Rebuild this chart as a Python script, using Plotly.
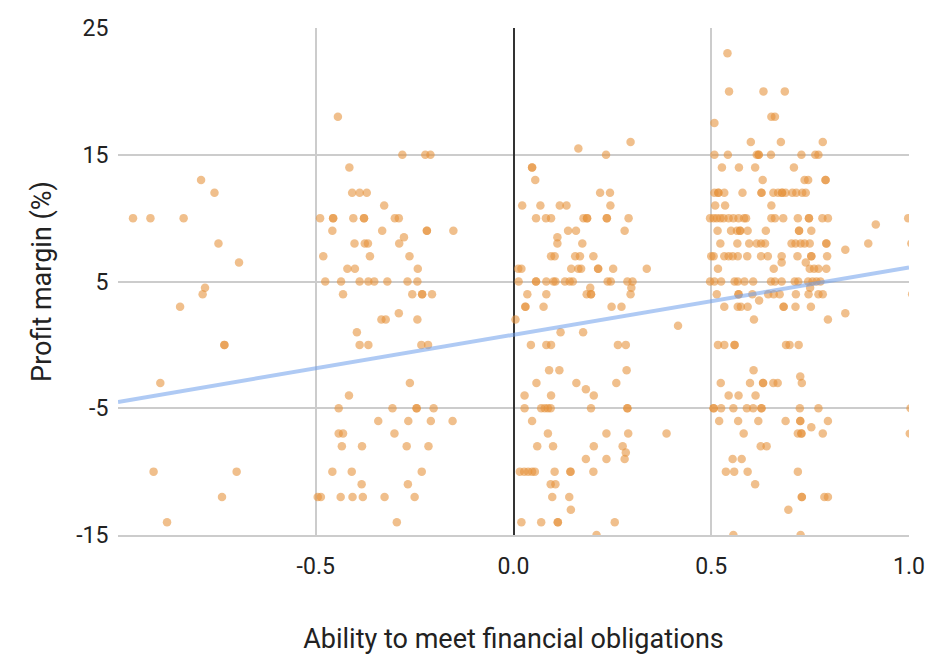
import numpy as np
import plotly.graph_objects as go

# Firms with very weak ability to meet obligations (x < -0.6)
ability_weak = [-0.962, -0.918, -0.834, -0.790, -0.756, -0.746, -0.694,
                -0.780, -0.786, -0.843, -0.731, -0.731, -0.893,
                -0.910, -0.700, -0.737, -0.876]
margin_weak = [10, 10, 10, 13, 12, 8, 6.5,
               4.5, 4, 3, 0, 0, -3,
               -10, -10, -12, -14]

# Firms around -0.5 .. -0.15
ability_low = [-0.444,
               -0.281, -0.223, -0.210,
               -0.415,
               -0.408, -0.389, -0.371,
               -0.327,
               -0.489, -0.456, -0.456, -0.405, -0.378, -0.378, -0.300, -0.290,
               -0.458, -0.332, -0.219, -0.219, -0.152,
               -0.277,
               -0.402, -0.376, -0.368, -0.289,
               -0.481, -0.363, -0.263,
               -0.420, -0.401, -0.242,
               -0.476, -0.436, -0.389, -0.367, -0.352, -0.319, -0.268, -0.243,
               -0.431, -0.256, -0.231, -0.231, -0.206,
               -0.290,
               -0.334, -0.323, -0.243,
               -0.396,
               -0.389, -0.367, -0.233, -0.216,
               -0.262,
               -0.416,
               -0.442, -0.306, -0.245, -0.245, -0.202,
               -0.342, -0.266, -0.209, -0.154,
               -0.442, -0.431, -0.301,
               -0.434, -0.383, -0.270, -0.215,
               -0.458, -0.409, -0.232,
               -0.384, -0.267,
               -0.495, -0.487, -0.437, -0.407, -0.381, -0.326, -0.250,
               -0.295]
margin_low = [18,
              15, 15, 15,
              14,
              12, 12, 12,
              11,
              10, 10, 10, 10, 10, 10, 10, 10,
              9, 9, 9, 9, 9,
              8.5,
              8, 8, 8, 8,
              7, 7, 7,
              6, 6, 6,
              5, 5, 5, 5, 5, 5, 5, 5,
              4, 4, 4, 4, 4,
              2.5,
              2, 2, 2,
              1,
              0, 0, 0, 0,
              -3,
              -4,
              -5, -5, -5, -5, -5,
              -6, -6, -6, -6,
              -7, -7, -7,
              -8, -8, -8, -8,
              -10, -10, -10,
              -11, -11,
              -12, -12, -12, -12, -12, -12, -12,
              -14]

# Firms around 0.0 .. 0.42
ability_mid = [0.164, 0.296, 0.234,
               0.047, 0.047, 0.055,
               0.219, 0.244,
               0.022, 0.068, 0.117, 0.134, 0.245,
               0.057, 0.082, 0.095, 0.177, 0.186, 0.186, 0.236, 0.236, 0.291,
               0.138, 0.158, 0.281,
               0.111, 0.111, 0.174,
               0.095, 0.104, 0.156, 0.168, 0.202,
               0.012, 0.020, 0.146, 0.164, 0.171, 0.214, 0.214, 0.252, 0.337,
               0.013, 0.057, 0.057, 0.083, 0.101, 0.106, 0.130, 0.142, 0.150,
               0.238, 0.246, 0.288, 0.301,
               0.035, 0.083, 0.185, 0.196, 0.196, 0.296, 0.194, 0.298,
               0.030, 0.030, 0.076, 0.248, 0.273,
               0.005,
               0.416,
               0.119, 0.176,
               0.044, 0.083, 0.095, 0.264, 0.284,
               0.090, 0.116, 0.286,
               0.058, 0.159, 0.260,
               0.183,
               0.028, 0.095, 0.203,
               0.028, 0.070, 0.079, 0.087, 0.094, 0.196, 0.288, 0.288,
               0.047,
               0.087, 0.235, 0.290, 0.387,
               0.060, 0.100, 0.203, 0.276, 0.284,
               0.183, 0.235, 0.281,
               0.016, 0.027, 0.037, 0.047, 0.054, 0.104, 0.144, 0.144, 0.202,
               0.094, 0.106,
               0.098, 0.141,
               0.145,
               0.020, 0.070, 0.112, 0.112, 0.256,
               0.210]
margin_mid = [15.5, 16, 15,
              14, 14, 13,
              12, 12,
              11, 11, 11, 11, 11,
              10, 10, 10, 10, 10, 10, 10, 10, 10,
              9, 9, 9,
              8.5, 8, 8,
              7, 7, 7, 7, 7,
              6, 6, 6, 6, 6, 6, 6, 6, 6,
              5, 5, 5, 5, 5, 5, 5, 5, 5,
              5, 5, 5, 5,
              4, 4, 4, 4, 4, 4, 4.5, 4.5,
              3, 3, 3, 3, 3,
              2,
              1.5,
              1, 1,
              0, 0, 0, 0, 0,
              -2, -2, -2,
              -3, -3, -3,
              -3.5,
              -4, -4, -4,
              -5, -5, -5, -5, -5, -5, -5, -5,
              -6,
              -7, -7, -7, -7,
              -8, -8, -8, -8, -8.5,
              -9, -9, -9,
              -10, -10, -10, -10, -10, -10, -10, -10, -10,
              -11, -11,
              -12, -12,
              -13,
              -14, -14, -14, -14, -14,
              -15]

# Firms around 0.5 .. 1.0
ability_high = [0.541,
                0.545, 0.632, 0.686,
                0.652, 0.661,
                0.508,
                0.600, 0.676, 0.782,
                0.508, 0.542, 0.615, 0.620, 0.620, 0.651, 0.728, 0.763, 0.771,
                0.527, 0.570, 0.611, 0.709,
                0.630, 0.736, 0.745, 0.789, 0.789,
                0.508, 0.518, 0.518, 0.533, 0.579, 0.627, 0.627, 0.657, 0.669,
                0.679, 0.679, 0.688, 0.705, 0.715, 0.730, 0.739,
                0.510, 0.535, 0.652,
                0.497, 0.506, 0.514, 0.523, 0.531, 0.544, 0.556, 0.569, 0.583,
                0.588, 0.652, 0.661, 0.682, 0.719, 0.747, 0.747, 0.781, 0.795,
                0.916, 0.998,
                0.516, 0.550, 0.565, 0.573, 0.573, 0.592, 0.638, 0.722, 0.722, 0.753,
                0.523, 0.566, 0.596, 0.615, 0.626, 0.636, 0.703, 0.713, 0.726,
                0.736, 0.749, 0.791, 0.791, 0.897, 0.839, 1.006,
                0.500, 0.506, 0.533, 0.544, 0.554, 0.567, 0.591, 0.626, 0.643,
                0.678, 0.718, 0.753, 0.753, 0.793, 0.678, 0.739,
                0.517, 0.658, 0.749, 0.760, 0.771, 0.791,
                0.497, 0.508, 0.525, 0.559, 0.567, 0.584, 0.606, 0.651, 0.661,
                0.678, 0.711, 0.720, 0.745, 0.756, 0.766, 0.776, 0.750,
                0.514, 0.569, 0.569, 0.604, 0.644, 0.658, 0.673, 0.714, 0.746,
                0.771, 0.782, 1.008,
                0.533, 0.567, 0.575, 0.592, 0.683, 0.683, 0.713, 0.752, 0.621, 0.839,
                0.608, 0.795,
                0.517, 0.533, 0.559, 0.559, 0.689, 0.698, 0.721,
                0.607, 0.725,
                0.524, 0.598, 0.631, 0.631, 0.657, 0.668, 0.729,
                0.544, 0.569, 0.612,
                0.506, 0.506, 0.525, 0.556, 0.590, 0.606, 0.627, 0.627, 0.724,
                0.771, 1.004,
                0.520, 0.568, 0.619, 0.688, 0.725, 0.725, 0.795, 0.753,
                0.582, 0.719, 0.728, 0.728, 0.782, 1.002,
                0.625, 0.640,
                0.554, 0.577,
                0.537, 0.558, 0.592, 0.719,
                0.611,
                0.729, 0.729, 0.786, 0.795,
                0.695,
                0.556, 0.726]
margin_high = [23,
               20, 20, 20,
               18, 18,
               17.5,
               16, 16, 16,
               15, 15, 15, 15, 15, 15, 15, 15, 15,
               14, 14, 14, 14,
               13, 13, 13, 13, 13,
               12, 12, 12, 12, 12, 12, 12, 12, 12,
               12, 12, 12, 12, 12, 12, 12,
               11, 11, 11,
               10, 10, 10, 10, 10, 10, 10, 10, 10,
               10, 10, 10, 10, 10, 10, 10, 10, 10,
               9.5, 10,
               9, 9, 9, 9, 9, 9, 9, 9, 9, 9,
               8, 8, 8, 8, 8, 8, 8, 8, 8,
               8, 8, 8, 8, 8, 7.5, 8,
               7, 7, 7, 7, 7, 7, 7, 7, 7,
               7, 7, 7, 7, 7, 6.5, 6.5,
               6, 6, 6, 6, 6, 6,
               5, 5, 5, 5, 5, 5, 5, 5, 5,
               5, 5, 5, 5, 5, 5, 5, 4.5,
               4, 4, 4, 4, 4, 4, 4, 4, 4,
               4, 4, 4,
               3, 3, 3, 3, 3, 3, 3, 3, 3.5, 2.5,
               2, 2,
               0, 0, 0, 0, 0, 0, 0,
               -2, -2.5,
               -3, -3, -3, -3, -3, -3, -3,
               -4, -4, -4,
               -5, -5, -5, -5, -5, -5, -5, -5, -5,
               -5, -5,
               -6, -6, -6, -6, -6, -6, -6, -6.5,
               -7, -7, -7, -7, -7, -7,
               -8, -8,
               -9, -9,
               -10, -10, -10, -10,
               -11,
               -12, -12, -12, -12,
               -13,
               -15, -15]

# Linear trendline of the full dataset
trend_slope = 5.3
trend_intercept = 0.8

x_tick_vals = [-0.5, 0.0, 0.5, 1.0]
x_tick_text = ["-0.5", "0.0", "0.5", "1.0"]
y_tick_vals = [-15, -5, 5, 15, 25]
y_tick_text = ["-15", "-5", "5", "15", "25"]

ability = ability_weak + ability_low + ability_mid + ability_high
margin = margin_weak + margin_low + margin_mid + margin_high

trend_x = np.array([-1.0, 1.0])
trend_y = trend_slope * trend_x + trend_intercept

fig = go.Figure()
fig.add_trace(go.Scatter(
    x=ability, y=margin, mode="markers",
    marker=dict(size=8.5, color="rgb(230,145,56)", opacity=0.58, line=dict(width=0)),
    showlegend=False, hoverinfo="x+y",
))
fig.add_trace(go.Scatter(
    x=trend_x, y=trend_y, mode="lines",
    line=dict(color="rgba(109,158,235,0.55)", width=4),
    showlegend=False, hoverinfo="skip",
))

font_family = "Roboto, Arial, sans-serif"
fig.update_layout(
    width=930, height=655,
    margin=dict(l=118, r=21, t=28, b=120),
    paper_bgcolor="white", plot_bgcolor="white",
    font=dict(family=font_family, color="#222"),
    xaxis=dict(
        range=[-1.0, 1.0], tickvals=x_tick_vals, ticktext=x_tick_text,
        tickfont=dict(size=23, color="#222"),
        showgrid=True, gridcolor="#cccccc", gridwidth=1.5,
        zeroline=True, zerolinecolor="#333333", zerolinewidth=1.5,
        ticks="outside", ticklen=10, tickcolor="rgba(0,0,0,0)",
        showline=True, linecolor="#cccccc", linewidth=1.5,
        automargin=False,
        title=dict(text="Ability to meet financial obligations",
                   font=dict(size=27, color="#222"), standoff=52),
    ),
    yaxis=dict(
        range=[-15, 25], tickvals=y_tick_vals, ticktext=y_tick_text,
        tickfont=dict(size=23, color="#222"),
        showgrid=True, gridcolor="#cccccc", gridwidth=1.5,
        zeroline=False,
        ticks="outside", ticklen=4, tickcolor="rgba(0,0,0,0)",
        automargin=False,
        title=dict(text="Profit margin (%)",
                   font=dict(size=27, color="#222"), standoff=16),
    ),
)

fig.write_html("out.html")
